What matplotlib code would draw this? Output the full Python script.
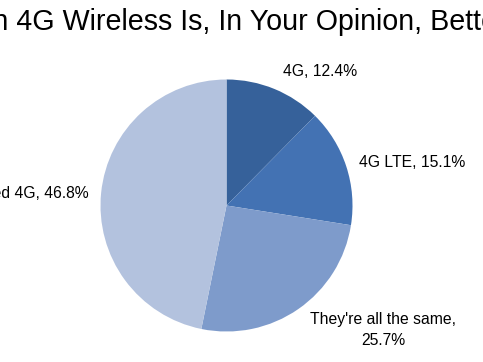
import matplotlib
matplotlib.use("Agg")
import matplotlib.pyplot as plt

labels = ["4G", "4G LTE", "They're all the same", "Advanced 4G"]
shares = [12.4, 15.1, 25.7, 46.8]
colors = ["#36619A", "#4372B3", "#7E9BCB", "#B3C2DE"]
title = "Which 4G Wireless Is, In Your Opinion, Better?"

plt.rcParams['font.family'] = ['Liberation Sans', 'DejaVu Sans']

W, H = 483, 362
fig = plt.figure(figsize=(W / 100, H / 100), dpi=100)

# pie centre ~ (226, 206) px, radius ~126 px
cx, cy, r = 226.5, 205.5, 126
ax = fig.add_axes([(cx - r) / W, (H - cy - r) / H, 2 * r / W, 2 * r / H])
ax.pie(shares, colors=colors, startangle=90, counterclock=False,
       radius=1, wedgeprops=dict(linewidth=0))
ax.set_xlim(-1, 1)
ax.set_ylim(-1, 1)
ax.set_aspect('equal')
ax.axis('off')

# title, clipped on both sides like the original
tsize = 20.6
renderer = fig.canvas.get_renderer()
probe = fig.text(0, 0, "Which", fontsize=tsize)
w_which = probe.get_window_extent(renderer).width
probe.remove()
fig.text((8 - w_which) / W, 1 - 22 / H, title, fontsize=tsize,
         ha='left', va='center')

def lab(x, y, s, **kw):
    fig.text(x / W, 1 - y / H, s, fontsize=11.3, va='center', **kw)

lab(283, 72, f"{labels[0]}, {shares[0]}%", ha='left')
lab(359, 162, f"{labels[1]}, {shares[1]}%", ha='left')
lab(383, 330, f"{labels[2]},\n{shares[2]}%", ha='center', linespacing=1.5)
lab(89, 193, f"{labels[3]}, {shares[3]}%", ha='right')

fig.savefig("out.png", dpi=100)
